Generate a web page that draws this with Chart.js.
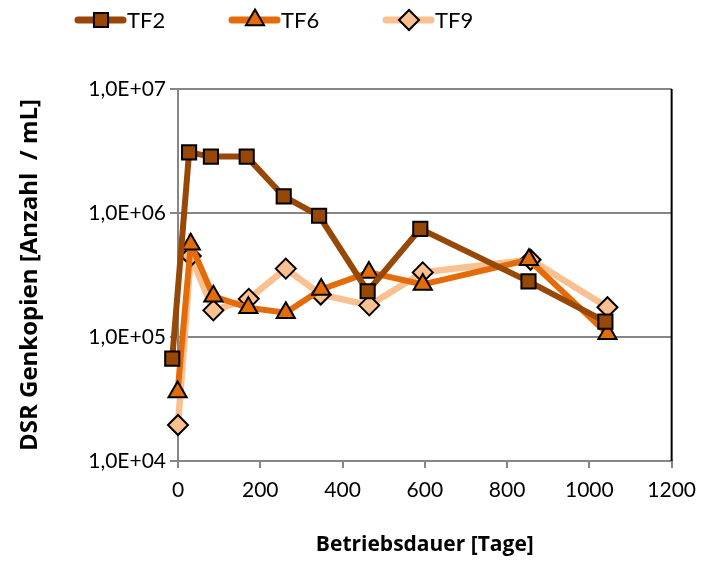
<!DOCTYPE html>
<html>
<head>
<meta charset="utf-8">
<script src="https://cdn.jsdelivr.net/npm/chart.js@4"></script>
<style>
  html, body { margin: 0; padding: 0; background: #fff; }
  #wrap { width: 706px; height: 562px; }
</style>
</head>
<body>
<div id="wrap"><canvas id="dsrChart"></canvas></div>
<script>
// Betriebsdauer [Tage] and DSR gene copies per mL
const daysTF2 = [-14, 27, 80, 167, 257, 343, 461, 589, 852, 1039];
const daysTF6 = [-1, 31, 86, 171, 262, 348, 464, 595, 853, 1044];
const daysTF9 = [0, 31, 86, 172, 262, 347, 465, 595, 857, 1044];
const tf2 = [6.7e4, 3.08e6, 2.85e6, 2.85e6, 1.36e6, 9.5e5, 2.34e5, 7.45e5, 2.81e5, 1.33e5];
const tf6 = [3.6e4, 5.6e5, 2.13e5, 1.72e5, 1.57e5, 2.42e5, 3.32e5, 2.65e5, 4.2e5, 1.06e5];
const tf9 = [1.95e4, 4.5e5, 1.64e5, 2.03e5, 3.56e5, 2.2e5, 1.8e5, 3.32e5, 4.2e5, 1.74e5];
const yTicks = [1e4, 1e5, 1e6, 1e7];

const FONT = 'Lato, "Open Sans", sans-serif';
const TITLE_FONT = '"Open Sans", Lato, sans-serif';
const GRAY = '#868686';

function pts(xs, ys) {
    return xs.map((x, i) => ({ x: x, y: ys[i] }));
}

const datasets = [
    { label: 'TF2', data: pts(daysTF2, tf2), borderColor: '#974706', backgroundColor: '#974706',
      pointStyle: 'rect', pointRadius: 10, borderWidth: 6 },
    { label: 'TF6', data: pts(daysTF6, tf6), borderColor: '#E36C09', backgroundColor: '#E36C09',
      pointStyle: 'triangle', pointRadius: 10.5, borderWidth: 6 },
    { label: 'TF9', data: pts(daysTF9, tf9), borderColor: '#FAC090', backgroundColor: '#FAC090',
      pointStyle: 'rectRot', pointRadius: 10, borderWidth: 6.5 }
].map(d => Object.assign(d, {
    pointBackgroundColor: d.backgroundColor,
    pointBorderColor: '#000',
    pointBorderWidth: 2,
    tension: 0,
    clip: false
}));

// line + marker + name, like the Excel legend
const legendPlugin = {
    id: 'lineLegend',
    afterDraw(chart) {
        const ctx = chart.ctx;
        const y = 20;
        ctx.save();
        chart.data.datasets.forEach((ds, i) => {
            const x0 = 78 + i * 154;
            ctx.strokeStyle = ds.borderColor;
            ctx.lineWidth = 7;
            ctx.lineCap = 'round';
            ctx.beginPath();
            ctx.moveTo(x0, y);
            ctx.lineTo(x0 + 45, y);
            ctx.stroke();
            ctx.fillStyle = ds.backgroundColor;
            ctx.strokeStyle = '#000';
            ctx.lineWidth = 2;
            Chart.helpers.drawPoint(ctx, { pointStyle: ds.pointStyle, radius: ds.pointRadius, borderWidth: 2, rotation: 0 }, x0 + 23, y);
            ctx.fillStyle = '#000';
            ctx.font = '22px ' + FONT;
            ctx.textBaseline = 'middle';
            ctx.fillText(ds.label, x0 + 49, y + 1);
        });
        ctx.restore();
    }
};

// right-hand border of the plot area
const borderPlugin = {
    id: 'rightBorder',
    beforeDatasetsDraw(chart) {
        const a = chart.chartArea;
        const ctx = chart.ctx;
        ctx.save();
        ctx.strokeStyle = '#000';
        ctx.lineWidth = 2;
        ctx.beginPath();
        ctx.moveTo(a.right, a.top);
        ctx.lineTo(a.right, a.bottom);
        ctx.stroke();
        ctx.restore();
    }
};

new Chart(document.getElementById('dsrChart'), {
    type: 'line',
    data: { datasets: datasets },
    plugins: [legendPlugin, borderPlugin],
    options: {
        responsive: true,
        maintainAspectRatio: false,
        animation: false,
        layout: { padding: { top: 89, right: 33, left: 0, bottom: 0 } },
        plugins: { legend: { display: false }, tooltip: { enabled: false } },
        scales: {
            x: {
                type: 'linear',
                min: 0,
                max: 1200,
                ticks: { stepSize: 200, color: '#000', font: { family: FONT, size: 21 }, padding: 10,
                         callback: v => String(v) },
                grid: { drawOnChartArea: false, color: GRAY, lineWidth: 2, tickLength: 7 },
                border: { color: GRAY, width: 2 },
                title: { display: true, text: 'Betriebsdauer [Tage]', color: '#000',
                         font: { family: TITLE_FONT, size: 21, weight: 'bold' }, padding: { top: 14 } },
                afterFit(scale) { scale.height = 101; }
            },
            y: {
                type: 'logarithmic',
                min: 1e4,
                max: 1e7,
                afterBuildTicks(scale) { scale.ticks = yTicks.map(v => ({ value: v })); },
                ticks: {
                    color: '#000',
                    font: { family: FONT, size: 21 },
                    padding: 4,
                    callback: v => '1,0E+' + String(Math.round(Math.log10(v))).padStart(2, '0')
                },
                grid: { color: GRAY, lineWidth: 2, tickLength: 8 },
                border: { color: GRAY, width: 2 },
                title: { display: true, text: 'DSR Genkopien [Anzahl  / mL]', color: '#000',
                         font: { family: TITLE_FONT, size: 24, weight: 'bold' }, padding: { top: 16, bottom: 6 } },
                afterFit(scale) { scale.width = 178; }
            }
        }
    }
});
</script>
</body>
</html>
